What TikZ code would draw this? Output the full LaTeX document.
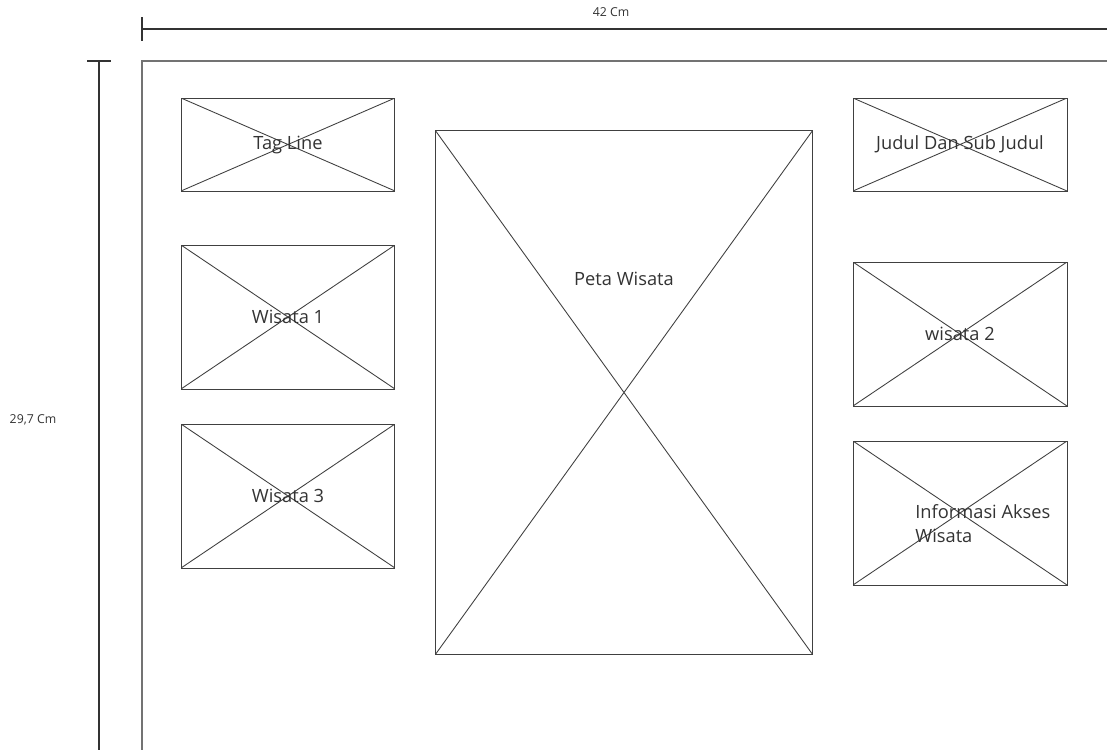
\documentclass[tikz,border=0pt]{standalone}
\usepackage{fontspec}
\setmainfont{Open Sans}
\usetikzlibrary{positioning}

\begin{document}
\begin{tikzpicture}[
    x=0.02cm, y=-0.02cm,
    phbox/.style={draw=black!75, line width=0.55pt, rectangle, inner sep=0pt,
        font=\fontsize{10.4}{13.6}\selectfont, text=black!80,
        path picture={\draw[black!75, line width=0.5pt]
            (path picture bounding box.north west) -- (path picture bounding box.south east)
            (path picture bounding box.south west) -- (path picture bounding box.north east);}},
    smallbox/.style={phbox, minimum width=4.28cm, minimum height=1.86cm},
    midbox/.style={phbox, minimum width=4.28cm, minimum height=2.88cm},
    txt/.style={font=\fontsize{10.4}{13.6}\selectfont, text=black!80, inner sep=0pt},
    dimtxt/.style={font=\fontsize{7}{8}\selectfont, text=black!80, inner sep=0pt},
    dimline/.style={draw=black!80, line width=0.6pt},
    paper/.style={draw=black!55, line width=0.8pt}
]

% fixed page frame
\useasboundingbox (0,0) rectangle (1107,750);

% dimension lines
\coordinate (w_start) at (142,29);
\coordinate (w_end) at (1107,29);
\draw[dimline] (w_start) -- (w_end);
\draw[dimline] ([yshift=-12*0.02cm]w_start) -- ([yshift=12*0.02cm]w_start);
\node[dimtxt] (w_lbl) at (611,12) {42 Cm};

\coordinate (h_start) at (99,61);
\coordinate (h_end) at (99,750);
\draw[dimline] (h_start) -- (h_end);
\draw[dimline] ([xshift=-12*0.02cm]h_start) -- ([xshift=12*0.02cm]h_start);
\node[dimtxt] (h_lbl) at (33,420) {29,7 Cm};

% poster edge
\coordinate (edge_tr) at (1107,61);
\coordinate (edge_tl) at (142,61);
\coordinate (edge_bl) at (142,750);
\draw[paper] (edge_tr) -- (edge_tl) -- (edge_bl);

% left column
\node[smallbox] (tagline) at (288,144.5) {\raisebox{-3pt}{Tag Line}};
\node[midbox] (wisata1) at (288,317) {Wisata 1};
\node[midbox] (wisata3) at (288,496) {Wisata 3};

% centre map
\node[phbox, minimum width=7.56cm, minimum height=10.5cm] (peta) at (624,392.5) {};
\node[txt] (peta_lbl) at (624,279) {Peta Wisata};

% right column
\node[smallbox] (judul) at (960,144.5) {\raisebox{-3pt}{Judul Dan Sub Judul}};
\node[midbox] (wisata2) at (960,334) {wisata 2};
\node[midbox] (info) at (960,513) {};
\node[txt, align=left, anchor=west] (info_lbl) at (915,524) {Informasi Akses\\Wisata};

\end{tikzpicture}
\end{document}
